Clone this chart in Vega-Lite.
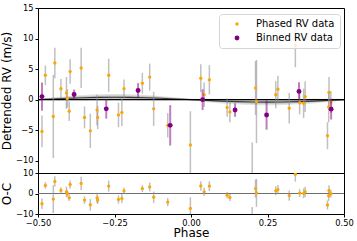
{
  "$schema": "https://vega.github.io/schema/vega-lite/v6.json",
  "autosize": {"type": "pad"},
  "padding": {"left": 0, "top": 2, "right": 0, "bottom": 0},
  "background": "white",
  "spacing": 0,
  "bounds": "flush",
  "config": {
    "font": "DejaVu Sans",
    "view": {"stroke": "black", "strokeWidth": 1},
    "axis": {
      "labelFont": "DejaVu Sans", "labelFontSize": 8.3, "labelColor": "black",
      "titleFont": "DejaVu Sans", "titleFontSize": 12, "titleFontWeight": "normal", "titleColor": "black",
      "tickColor": "black", "tickSize": 3, "labelPadding": 2, "domain": false, "grid": false, "labelFlush": false,
      "labelOverlap": false
    },
    "legend": {
      "orient": "none", "legendX": 181, "legendY": 6,
      "fillColor": "rgba(255,255,255,0.8)", "strokeColor": "#d5d5d5", "cornerRadius": 3,
      "padding": 5, "labelFont": "DejaVu Sans", "labelFontSize": 10, "labelColor": "black",
      "symbolOffset": 8, "labelOffset": 14, "rowPadding": 4, "symbolStrokeWidth": 0
    }
  },
  "datasets": {
    "phased": [
      {"phase": -0.487, "rv": -5.2, "err": 2.6, "oc": -5.0, "series": "Phased RV data"},
      {"phase": -0.476, "rv": 4.0, "err": 1.6, "oc": 3.9, "series": "Phased RV data"},
      {"phase": -0.450, "rv": -2.75, "err": 6.8, "oc": -2.7, "series": "Phased RV data"},
      {"phase": -0.445, "rv": 6.0, "err": 2.5, "oc": 5.9, "series": "Phased RV data"},
      {"phase": -0.425, "rv": 1.8, "err": 1.6, "oc": 1.5, "series": "Phased RV data"},
      {"phase": -0.407, "rv": 1.1, "err": 2.6, "oc": 0.8, "series": "Phased RV data"},
      {"phase": -0.404, "rv": 0.2, "err": 1.5, "oc": 0.0, "series": "Phased RV data"},
      {"phase": -0.398, "rv": -1.9, "err": 1.6, "oc": -2.1, "series": "Phased RV data"},
      {"phase": -0.395, "rv": 4.6, "err": 2.0, "oc": 4.4, "series": "Phased RV data"},
      {"phase": -0.359, "rv": 5.2, "err": 3.3, "oc": 4.9, "series": "Phased RV data"},
      {"phase": -0.348, "rv": -2.9, "err": 1.8, "oc": -3.2, "series": "Phased RV data"},
      {"phase": -0.329, "rv": -5.1, "err": 2.8, "oc": -5.5, "series": "Phased RV data"},
      {"phase": -0.307, "rv": -1.7, "err": 2.5, "oc": -2.1, "series": "Phased RV data"},
      {"phase": -0.305, "rv": -2.9, "err": 1.9, "oc": -3.2, "series": "Phased RV data"},
      {"phase": -0.269, "rv": 4.0, "err": 2.7, "oc": 3.6, "series": "Phased RV data"},
      {"phase": -0.237, "rv": -2.5, "err": 2.0, "oc": -2.9, "series": "Phased RV data"},
      {"phase": -0.226, "rv": -2.1, "err": 2.2, "oc": -2.4, "series": "Phased RV data"},
      {"phase": -0.219, "rv": 1.8, "err": 1.5, "oc": 1.3, "series": "Phased RV data"},
      {"phase": -0.159, "rv": 2.7, "err": 1.7, "oc": 2.4, "series": "Phased RV data"},
      {"phase": -0.135, "rv": 3.7, "err": 2.2, "oc": 3.2, "series": "Phased RV data"},
      {"phase": -0.122, "rv": -1.5, "err": 2.8, "oc": -1.8, "series": "Phased RV data"},
      {"phase": -0.076, "rv": -4.2, "err": 2.0, "oc": -4.2, "series": "Phased RV data"},
      {"phase": -0.002, "rv": -7.4, "err": 5.5, "oc": -7.3, "series": "Phased RV data"},
      {"phase": 0.032, "rv": 3.5, "err": 2.3, "oc": 3.7, "series": "Phased RV data"},
      {"phase": 0.043, "rv": 0.8, "err": 2.0, "oc": 0.8, "series": "Phased RV data"},
      {"phase": 0.060, "rv": 3.25, "err": 2.4, "oc": 3.6, "series": "Phased RV data"},
      {"phase": 0.118, "rv": -1.3, "err": 1.5, "oc": -0.8, "series": "Phased RV data"},
      {"phase": 0.127, "rv": -2.0, "err": 1.7, "oc": -1.9, "series": "Phased RV data"},
      {"phase": 0.200, "rv": -14.0, "err": 7.0, "oc": -13.6, "series": "Phased RV data"},
      {"phase": 0.211, "rv": 1.9, "err": 4.4, "oc": 2.4, "series": "Phased RV data"},
      {"phase": 0.214, "rv": -0.3, "err": 6.8, "oc": 0.3, "series": "Phased RV data"},
      {"phase": 0.277, "rv": 0.8, "err": 2.2, "oc": 1.3, "series": "Phased RV data"},
      {"phase": 0.284, "rv": 1.7, "err": 2.2, "oc": 1.9, "series": "Phased RV data"},
      {"phase": 0.321, "rv": -1.4, "err": 2.5, "oc": -1.0, "series": "Phased RV data"},
      {"phase": 0.341, "rv": 8.9, "err": 3.6, "oc": 9.4, "series": "Phased RV data"},
      {"phase": 0.355, "rv": -0.5, "err": 1.9, "oc": 0.2, "series": "Phased RV data"},
      {"phase": 0.368, "rv": -0.6, "err": 2.4, "oc": 0.1, "series": "Phased RV data"},
      {"phase": 0.373, "rv": 0.5, "err": 2.5, "oc": 0.8, "series": "Phased RV data"},
      {"phase": 0.446, "rv": -5.9, "err": 2.2, "oc": -5.6, "series": "Phased RV data"},
      {"phase": 0.451, "rv": 1.2, "err": 2.5, "oc": 1.5, "series": "Phased RV data"},
      {"phase": 0.450, "rv": -1.2, "err": 2.5, "oc": -1.1, "series": "Phased RV data"},
      {"phase": 0.457, "rv": -0.4, "err": 1.8, "oc": -0.1, "series": "Phased RV data"}
    ],
    "binned": [
      {"phase": -0.487, "rv": 0.5, "err": 2.3, "series": "Binned RV data"},
      {"phase": -0.382, "rv": 0.85, "err": 0.8, "series": "Binned RV data"},
      {"phase": -0.277, "rv": -1.5, "err": 1.6, "series": "Binned RV data"},
      {"phase": -0.173, "rv": 1.5, "err": 1.2, "series": "Binned RV data"},
      {"phase": -0.068, "rv": -4.2, "err": 3.3, "series": "Binned RV data"},
      {"phase": 0.038, "rv": 0.0, "err": 1.7, "series": "Binned RV data"},
      {"phase": 0.144, "rv": -1.7, "err": 1.1, "series": "Binned RV data"},
      {"phase": 0.247, "rv": -2.5, "err": 2.4, "series": "Binned RV data"},
      {"phase": 0.353, "rv": 1.35, "err": 1.5, "series": "Binned RV data"},
      {"phase": 0.458, "rv": -1.55, "err": 1.7, "series": "Binned RV data"}
    ],
    "model": [
      {"phase": -0.50, "m": 0.00, "lo1": -0.08, "hi1": 0.08, "lo2": -0.15, "hi2": 0.15},
      {"phase": -0.45, "m": 0.12, "lo1": -0.02, "hi1": 0.26, "lo2": -0.14, "hi2": 0.38},
      {"phase": -0.40, "m": 0.24, "lo1": 0.04, "hi1": 0.44, "lo2": -0.13, "hi2": 0.61},
      {"phase": -0.35, "m": 0.32, "lo1": 0.08, "hi1": 0.56, "lo2": -0.12, "hi2": 0.76},
      {"phase": -0.30, "m": 0.38, "lo1": 0.11, "hi1": 0.65, "lo2": -0.11, "hi2": 0.87},
      {"phase": -0.25, "m": 0.40, "lo1": 0.12, "hi1": 0.68, "lo2": -0.11, "hi2": 0.91},
      {"phase": -0.20, "m": 0.38, "lo1": 0.11, "hi1": 0.65, "lo2": -0.11, "hi2": 0.87},
      {"phase": -0.15, "m": 0.32, "lo1": 0.08, "hi1": 0.56, "lo2": -0.12, "hi2": 0.76},
      {"phase": -0.10, "m": 0.24, "lo1": 0.04, "hi1": 0.44, "lo2": -0.13, "hi2": 0.61},
      {"phase": -0.05, "m": 0.12, "lo1": -0.02, "hi1": 0.26, "lo2": -0.14, "hi2": 0.38},
      {"phase": 0.00, "m": 0.00, "lo1": -0.08, "hi1": 0.08, "lo2": -0.15, "hi2": 0.15},
      {"phase": 0.05, "m": -0.12, "lo1": -0.26, "hi1": 0.02, "lo2": -0.38, "hi2": 0.14},
      {"phase": 0.10, "m": -0.24, "lo1": -0.44, "hi1": -0.04, "lo2": -0.61, "hi2": 0.13},
      {"phase": 0.15, "m": -0.32, "lo1": -0.56, "hi1": -0.08, "lo2": -0.76, "hi2": 0.12},
      {"phase": 0.20, "m": -0.38, "lo1": -0.65, "hi1": -0.11, "lo2": -0.87, "hi2": 0.11},
      {"phase": 0.25, "m": -0.40, "lo1": -0.68, "hi1": -0.12, "lo2": -0.91, "hi2": 0.11},
      {"phase": 0.30, "m": -0.38, "lo1": -0.65, "hi1": -0.11, "lo2": -0.87, "hi2": 0.11},
      {"phase": 0.35, "m": -0.32, "lo1": -0.56, "hi1": -0.08, "lo2": -0.76, "hi2": 0.12},
      {"phase": 0.40, "m": -0.24, "lo1": -0.44, "hi1": -0.04, "lo2": -0.61, "hi2": 0.13},
      {"phase": 0.45, "m": -0.12, "lo1": -0.26, "hi1": 0.02, "lo2": -0.38, "hi2": 0.14},
      {"phase": 0.50, "m": 0.00, "lo1": -0.08, "hi1": 0.08, "lo2": -0.15, "hi2": 0.15}
    ]
  },
  "vconcat": [
    {
      "width": 306,
      "height": 165,
      "layer": [
        {
          "data": {"name": "model"},
          "mark": {"type": "area", "color": "#a8a8a8", "opacity": 0.35, "interpolate": "monotone"},
          "encoding": {
            "x": {"field": "phase", "type": "quantitative", "scale": {"domain": [-0.5, 0.5], "nice": false}, "axis": null},
            "y": {"field": "lo2", "type": "quantitative", "scale": {"domain": [-12, 15], "nice": false, "zero": false},
                  "title": "Detrended RV (m/s)", "axis": {"values": [-10, -5, 0, 5, 10, 15], "titlePadding": 1.5}},
            "y2": {"field": "hi2"}
          }
        },
        {
          "data": {"name": "model"},
          "mark": {"type": "area", "color": "#7a7a7a", "opacity": 0.3, "interpolate": "monotone"},
          "encoding": {
            "x": {"field": "phase", "type": "quantitative", "axis": null},
            "y": {"field": "lo1", "type": "quantitative", "title": "Detrended RV (m/s)", "axis": {"values": [-10, -5, 0, 5, 10, 15], "titlePadding": 1.5}},
            "y2": {"field": "hi1"}
          }
        },
        {
          "data": {"name": "model"},
          "mark": {"type": "line", "color": "#3a3a3a", "strokeWidth": 1.1, "interpolate": "monotone"},
          "encoding": {
            "x": {"field": "phase", "type": "quantitative", "axis": null},
            "y": {"field": "m", "type": "quantitative", "title": "Detrended RV (m/s)", "axis": {"values": [-10, -5, 0, 5, 10, 15], "titlePadding": 1.5}}
          }
        },
        {
          "data": {"values": [{"v": 0}]},
          "mark": {"type": "rule", "color": "black", "strokeWidth": 1.2},
          "encoding": {"y": {"field": "v", "type": "quantitative", "title": "Detrended RV (m/s)", "axis": {"values": [-10, -5, 0, 5, 10, 15], "titlePadding": 1.5}}}
        },
        {
          "data": {"name": "phased"},
          "mark": {"type": "errorbar", "color": "#8c8c8c", "opacity": 0.55, "thickness": 1.5, "clip": true},
          "encoding": {
            "x": {"field": "phase", "type": "quantitative", "axis": null},
            "y": {"field": "rv", "type": "quantitative", "title": "Detrended RV (m/s)", "axis": {"values": [-10, -5, 0, 5, 10, 15], "titlePadding": 1.5}},
            "yError": {"field": "err"}
          }
        },
        {
          "data": {"name": "phased"},
          "mark": {"type": "point", "filled": true, "opacity": 1, "shape": "circle", "clip": true},
          "encoding": {
            "x": {"field": "phase", "type": "quantitative", "axis": null},
            "y": {"field": "rv", "type": "quantitative", "title": "Detrended RV (m/s)", "axis": {"values": [-10, -5, 0, 5, 10, 15], "titlePadding": 1.5}},
            "color": {"field": "series", "type": "nominal",
                      "scale": {"domain": ["Phased RV data", "Binned RV data"], "range": ["#ffa500", "#800080"]},
                      "legend": {"title": null}},
            "size": {"field": "series", "type": "nominal",
                     "scale": {"domain": ["Phased RV data", "Binned RV data"], "range": [11, 24]},
                     "legend": {"title": null}}
          }
        },
        {
          "data": {"name": "binned"},
          "mark": {"type": "errorbar", "color": "#800080", "opacity": 0.5, "thickness": 2, "clip": true},
          "encoding": {
            "x": {"field": "phase", "type": "quantitative", "axis": null},
            "y": {"field": "rv", "type": "quantitative", "title": "Detrended RV (m/s)", "axis": {"values": [-10, -5, 0, 5, 10, 15], "titlePadding": 1.5}},
            "yError": {"field": "err"}
          }
        },
        {
          "data": {"name": "binned"},
          "mark": {"type": "point", "filled": true, "opacity": 1, "shape": "circle", "clip": true},
          "encoding": {
            "x": {"field": "phase", "type": "quantitative", "axis": null},
            "y": {"field": "rv", "type": "quantitative", "title": "Detrended RV (m/s)", "axis": {"values": [-10, -5, 0, 5, 10, 15], "titlePadding": 1.5}},
            "color": {"field": "series", "type": "nominal"},
            "size": {"field": "series", "type": "nominal"}
          }
        }
      ]
    },
    {
      "width": 306,
      "height": 41,
      "layer": [
        {
          "data": {"values": [{"v": 0}]},
          "mark": {"type": "rule", "color": "#707070", "strokeWidth": 1.2},
          "encoding": {"y": {"field": "v", "type": "quantitative", "title": "O-C", "axis": {"values": [-10, 0, 10], "titlePadding": 1.5}}}
        },
        {
          "data": {"name": "phased"},
          "mark": {"type": "errorbar", "color": "#8c8c8c", "opacity": 0.55, "thickness": 1.5, "clip": true},
          "encoding": {
            "x": {"field": "phase", "type": "quantitative", "scale": {"domain": [-0.5, 0.5], "nice": false}, "title": "Phase",
                  "axis": {"values": [-0.5, -0.25, 0, 0.25, 0.5], "format": ".2f", "titlePadding": 1, "labelPadding": 1.5}},
            "y": {"field": "oc", "type": "quantitative", "scale": {"domain": [-10, 10], "nice": false, "zero": false}, "title": "O-C",
                  "axis": {"values": [-10, 0, 10], "titlePadding": 1.5}},
            "yError": {"field": "err"}
          }
        },
        {
          "data": {"name": "phased"},
          "mark": {"type": "point", "filled": true, "opacity": 1, "shape": "circle", "size": 11, "color": "#ffa500", "clip": true},
          "encoding": {
            "x": {"field": "phase", "type": "quantitative", "title": "Phase",
                  "axis": {"values": [-0.5, -0.25, 0, 0.25, 0.5], "format": ".2f", "titlePadding": 1, "labelPadding": 1.5}},
            "y": {"field": "oc", "type": "quantitative", "title": "O-C", "axis": {"values": [-10, 0, 10], "titlePadding": 1.5}}
          }
        }
      ]
    }
  ]
}
